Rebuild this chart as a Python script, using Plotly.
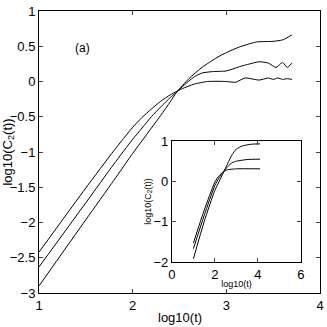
import plotly.graph_objects as go

# main panel: log10(t) vs log10(C2(t)) for three curves
x_a = [1.0, 1.5, 1.8, 2.0, 2.1, 2.2, 2.3, 2.4, 2.47, 2.55, 2.65, 2.8, 3.0, 3.1, 3.2, 3.3, 3.35, 3.45, 3.5, 3.55, 3.6, 3.65, 3.7]
y_a = [-2.42, -1.51, -0.98, -0.65, -0.51, -0.39, -0.28, -0.19, -0.14, -0.09, -0.04, 0.0, 0.0, -0.01, 0.05, 0.03, 0.02, 0.05, 0.03, 0.05, 0.03, 0.04, 0.03]

x_b = [1.0, 1.5, 1.8, 2.0, 2.1, 2.2, 2.3, 2.4, 2.47, 2.55, 2.65, 2.74, 2.85, 3.0, 3.14, 3.25, 3.35, 3.45, 3.53, 3.6, 3.65, 3.7]
y_b = [-2.63, -1.72, -1.17, -0.82, -0.66, -0.50, -0.36, -0.23, -0.15, -0.05, 0.06, 0.12, 0.14, 0.15, 0.21, 0.25, 0.28, 0.26, 0.20, 0.27, 0.20, 0.26]

x_c = [1.0, 1.5, 1.8, 2.0, 2.1, 2.2, 2.3, 2.4, 2.47, 2.6, 2.74, 2.9, 3.0, 3.14, 3.32, 3.5, 3.6, 3.7]
y_c = [-2.90, -1.96, -1.40, -1.02, -0.84, -0.66, -0.48, -0.29, -0.15, 0.04, 0.20, 0.34, 0.41, 0.49, 0.56, 0.57, 0.59, 0.66]

# inset
ix_top = [1.0, 1.5, 2.0, 2.2, 2.4, 2.6, 2.8, 3.0, 3.3, 3.7, 4.1]
iy_top = [-1.92, -1.0, -0.22, 0.0, 0.22, 0.45, 0.66, 0.8, 0.88, 0.92, 0.93]
ix_mid = [1.0, 1.5, 2.0, 2.2, 2.4, 2.6, 2.8, 3.0, 3.5, 4.1]
iy_mid = [-1.67, -0.85, -0.1, 0.09, 0.24, 0.37, 0.46, 0.5, 0.54, 0.55]
ix_low = [1.0, 1.5, 2.0, 2.2, 2.4, 2.6, 2.8, 3.0, 4.1]
iy_low = [-1.53, -0.72, -0.02, 0.14, 0.24, 0.29, 0.3, 0.31, 0.31]

line = dict(color='black', width=1, shape='spline', smoothing=0.6)
fig = go.Figure()
for xs, ys in [(x_a, y_a), (x_b, y_b), (x_c, y_c)]:
    fig.add_trace(go.Scatter(x=xs, y=ys, mode='lines', line=line, showlegend=False))
for xs, ys in [(ix_top, iy_top), (ix_mid, iy_mid), (ix_low, iy_low)]:
    fig.add_trace(go.Scatter(x=xs, y=ys, mode='lines', line=line, showlegend=False,
                             xaxis='x2', yaxis='y2'))

ax = dict(showline=True, linecolor='black', linewidth=1, mirror='ticks', ticks='inside',
          ticklen=4, showgrid=False, zeroline=False, tickfont=dict(size=13), automargin=False)

fig.update_layout(
    width=327, height=327,
    margin=dict(l=39, r=7, t=11, b=34),
    plot_bgcolor='white', paper_bgcolor='white',
    font=dict(family='Liberation Sans Narrow, Liberation Sans, Arial', color='black'),
    xaxis=dict(ax, range=[1, 4], tickvals=[1, 2, 3, 4]),
    yaxis=dict(ax, range=[-3, 1], tickvals=[-3, -2.5, -2, -1.5, -1, -0.5, 0, 0.5, 1],
               ticktext=['−3', '−2.5', '−2', '−1.5', '−1', '−0.5', '0', '0.5', '1']),
    xaxis2=dict(ax, domain=[0.473, 0.932], anchor='y2', range=[0, 6], tickvals=[0, 2, 4, 6],
                title=dict(text='log10(t)', font=dict(size=9), standoff=0)),
    yaxis2=dict(ax, domain=[0.11, 0.539], anchor='x2', range=[-2, 1], tickvals=[-2, -1, 0, 1],
                ticktext=['−2', '−1', '0', '1'],
                title=dict(text='log10(C<sub>2</sub>(t))', font=dict(size=9), standoff=0)),
    annotations=[
        dict(x=1.46, y=0.48, xref='x', yref='y', text='(a)', showarrow=False, font=dict(size=12)),
        dict(x=0.5, y=-0.088, xref='paper', yref='paper', text='log10(t)', showarrow=False,
             font=dict(size=13), yanchor='middle'),
        dict(x=-0.112, y=0.5, xref='paper', yref='paper', text='log10(C<sub>2</sub>(t))',
             showarrow=False, font=dict(size=13), textangle=-90, xanchor='center'),
    ],
)

# drop the default body margin so the figure sits at the page corner
fig.write_html("out.html", config={'displayModeBar': False},
               post_script="document.body.style.margin='0';")
